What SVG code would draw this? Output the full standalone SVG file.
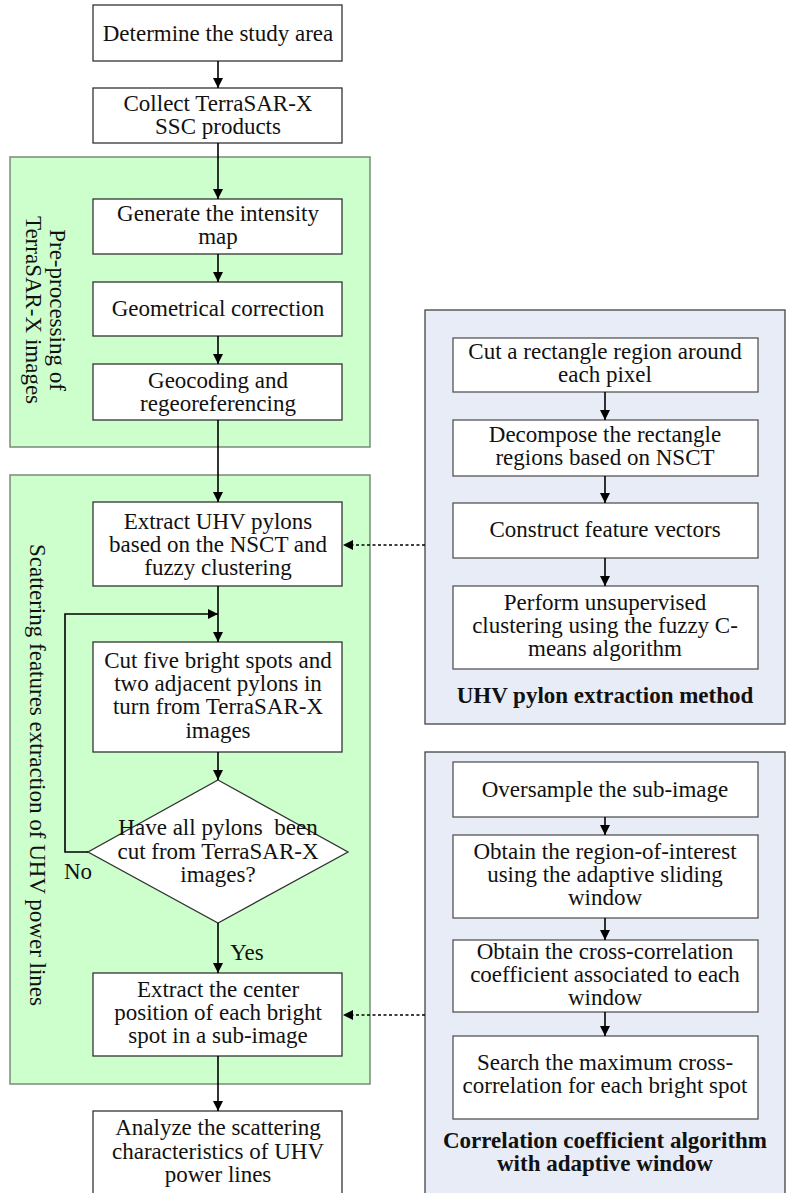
<svg xmlns="http://www.w3.org/2000/svg" width="791" height="1193" viewBox="0 0 791 1193">
<defs>
<marker id="ah" viewBox="0 0 10 10" refX="10" refY="5" markerWidth="10" markerHeight="10" markerUnits="userSpaceOnUse" orient="auto">
<path d="M0,0 L10,5 L0,10 z" fill="#000"/>
</marker>
</defs>
<style>
text{font-family:"Liberation Serif","Times New Roman",serif;font-size:23px;fill:#111;text-anchor:middle}
.b{font-weight:bold}
.box{fill:#fff;stroke:#333;stroke-width:1.3}
.sbox{fill:#fff;stroke:#555;stroke-width:1.3}
.gp{fill:#ccffcc;stroke:#7a8a7a;stroke-width:1.5}
.bp{fill:#e7ecf6;stroke:#444;stroke-width:1.3}
.c{fill:none;stroke:#000;stroke-width:1.6}
.d{fill:none;stroke:#000;stroke-width:1.6;stroke-dasharray:3,2.5}
</style>
<g id="panel-pre"><rect class="gp" x="10" y="157" width="360" height="290"/>
<text transform="translate(57,310) rotate(90)" dy="7">Pre-processing of</text>
<text transform="translate(33,310) rotate(90)" dy="7">TerraSAR-X images</text></g>
<g id="panel-scatter"><rect class="gp" x="10" y="475" width="360" height="609"/>
<text transform="translate(37,775) rotate(90)" dy="7">Scattering features extraction of UHV power lines</text></g>
<g id="panel-uhv"><rect class="bp" x="425" y="310" width="360" height="414"/>
<text class="b" x="605" y="703">UHV pylon extraction method</text></g>
<g id="panel-corr"><rect class="bp" x="425" y="752" width="360" height="460"/>
<text class="b" x="605" y="1148">Correlation coefficient algorithm</text>
<text class="b" x="605" y="1171">with adaptive window</text></g>

<g id="n1"><rect class="box" x="93" y="5" width="249" height="56"/><text x="218" y="41">Determine the study area</text></g>
<g id="n2"><rect class="box" x="93" y="88" width="249" height="55"/><text x="218" y="111">Collect TerraSAR-X</text><text x="218" y="134">SSC products</text></g>
<g id="n3"><rect class="box" x="93" y="199" width="249" height="55"/><text x="218" y="221">Generate the intensity</text><text x="218" y="244">map</text></g>
<g id="n4"><rect class="box" x="93" y="282" width="249" height="54"/><text x="218" y="316">Geometrical correction</text></g>
<g id="n5"><rect class="box" x="93" y="364" width="249" height="56"/><text x="218" y="388">Geocoding and</text><text x="218" y="411">regeoreferencing</text></g>
<g id="n6"><rect class="box" x="93" y="502" width="249" height="84"/><text x="218" y="529">Extract UHV pylons</text><text x="218" y="552">based on the NSCT and</text><text x="218" y="575">fuzzy clustering</text></g>
<g id="n7"><rect class="box" x="93" y="642" width="249" height="110"/><text x="218" y="668">Cut five bright spots and</text><text x="218" y="691">two adjacent pylons in</text><text x="218" y="714">turn from TerraSAR-X</text><text x="218" y="738">images</text></g>
<g id="n8"><path class="box" d="M218,780 L348,852 L218,923 L88,852 Z"/><text x="218" y="835" xml:space="preserve">Have all pylons  been</text><text x="218" y="859">cut from TerraSAR-X</text><text x="218" y="882">images?</text></g>
<g id="n9"><rect class="box" x="93" y="973" width="249" height="83"/><text x="218" y="997">Extract the center</text><text x="218" y="1020">position of each bright</text><text x="218" y="1043">spot in a sub-image</text></g>
<g id="n10"><rect class="box" x="93" y="1111" width="249" height="100"/><text x="218" y="1135">Analyze the scattering</text><text x="218" y="1159">characteristics of UHV</text><text x="218" y="1182">power lines</text></g>

<g id="u1"><rect class="sbox" x="453" y="338" width="305" height="54"/><text x="605" y="359">Cut a rectangle region around</text><text x="605" y="382">each pixel</text></g>
<g id="u2"><rect class="sbox" x="453" y="420" width="305" height="56"/><text x="605" y="442">Decompose the rectangle</text><text x="605" y="465">regions based on NSCT</text></g>
<g id="u3"><rect class="sbox" x="453" y="503" width="305" height="55"/><text x="605" y="537">Construct feature vectors</text></g>
<g id="u4"><rect class="sbox" x="453" y="586" width="305" height="83"/><text x="605" y="610">Perform unsupervised</text><text x="605" y="633">clustering using the fuzzy C-</text><text x="605" y="656">means algorithm</text></g>

<g id="c1"><rect class="sbox" x="453" y="762" width="305" height="55"/><text x="605" y="797">Oversample the sub-image</text></g>
<g id="c2"><rect class="sbox" x="453" y="835" width="305" height="83"/><text x="605" y="859">Obtain the region-of-interest</text><text x="605" y="882">using the adaptive sliding</text><text x="605" y="905">window</text></g>
<g id="c3"><rect class="sbox" x="453" y="940" width="305" height="72"/><text x="605" y="959">Obtain the cross-correlation</text><text x="605" y="982">coefficient associated to each</text><text x="605" y="1005">window</text></g>
<g id="c4"><rect class="sbox" x="453" y="1036" width="305" height="83"/><text x="605" y="1070">Search the maximum cross-</text><text x="605" y="1093">correlation for each bright spot</text></g>

<g id="connectors">
<line class="c" x1="218" y1="61" x2="218" y2="88" marker-end="url(#ah)"/>
<line class="c" x1="218" y1="143" x2="218" y2="199" marker-end="url(#ah)"/>
<line class="c" x1="218" y1="254" x2="218" y2="282" marker-end="url(#ah)"/>
<line class="c" x1="218" y1="336" x2="218" y2="364" marker-end="url(#ah)"/>
<line class="c" x1="218" y1="420" x2="218" y2="502" marker-end="url(#ah)"/>
<line class="c" x1="218" y1="586" x2="218" y2="642" marker-end="url(#ah)"/>
<polyline class="c" points="88,852 65,852 65,614 218,614" marker-end="url(#ah)"/>
<line class="c" x1="218" y1="752" x2="218" y2="780" marker-end="url(#ah)"/>
<line class="c" x1="218" y1="923" x2="218" y2="973" marker-end="url(#ah)"/>
<line class="c" x1="218" y1="1056" x2="218" y2="1111" marker-end="url(#ah)"/>
<line class="c" x1="605" y1="392" x2="605" y2="420" marker-end="url(#ah)"/>
<line class="c" x1="605" y1="476" x2="605" y2="503" marker-end="url(#ah)"/>
<line class="c" x1="605" y1="558" x2="605" y2="586" marker-end="url(#ah)"/>
<line class="c" x1="605" y1="817" x2="605" y2="835" marker-end="url(#ah)"/>
<line class="c" x1="605" y1="918" x2="605" y2="940" marker-end="url(#ah)"/>
<line class="c" x1="605" y1="1012" x2="605" y2="1036" marker-end="url(#ah)"/>
<line class="d" x1="425" y1="545" x2="343" y2="545" marker-end="url(#ah)"/>
<line class="d" x1="425" y1="1015" x2="343" y2="1015" marker-end="url(#ah)"/>
<text x="78" y="879">No</text>
<text x="247" y="960">Yes</text>
</g>
</svg>
